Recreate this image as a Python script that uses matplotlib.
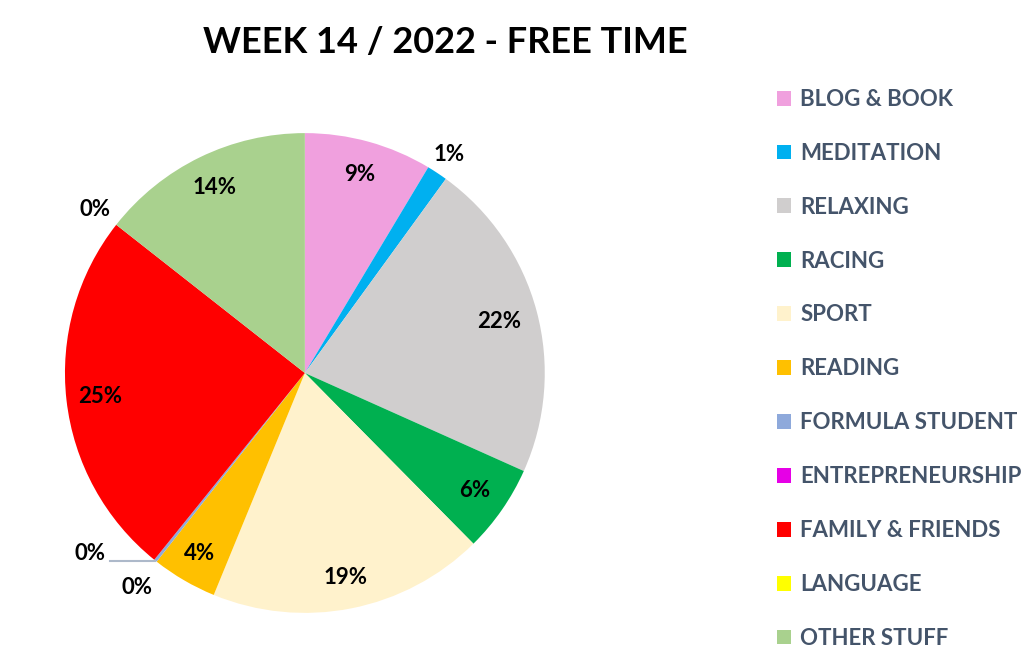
import numpy as np
import matplotlib
matplotlib.use("Agg")
import matplotlib.pyplot as plt
from matplotlib.patches import Patch

# share of free time per activity (percent), clockwise from 12 o'clock
categories = ["BLOG & BOOK", "MEDITATION", "RELAXING", "RACING", "SPORT",
              "READING", "FORMULA STUDENT", "ENTREPRENEURSHIP",
              "FAMILY & FRIENDS", "LANGUAGE", "OTHER STUFF"]
shares = [8.6, 1.4, 21.7, 5.9, 18.6, 4.4, 0.2, 0.0, 24.8, 0.0, 14.4]
colors = ["#F0A0DE", "#00B0F0", "#D0CECE", "#00B050", "#FFF2CC",
          "#FFC000", "#8EA9DB", "#E600E6", "#FF0000", "#FFFF00", "#A9D18E"]

plt.rcParams['font.family'] = ['Lato', 'DejaVu Sans']
plt.rcParams['font.weight'] = 'bold'

fig = plt.figure(figsize=(10.23, 6.69), dpi=100)
ax = fig.add_axes([0.0635, 0.0837, 0.469, 0.7175])

wedges, _ = ax.pie(shares, colors=colors, startangle=90, counterclock=False,
                   wedgeprops=dict(linewidth=0), radius=1.0)
ax.set_xlim(-1, 1)
ax.set_ylim(-1, 1)
ax.set_aspect('equal')
ax.axis('off')

# label placement: radial distance for each slice (outside for tiny ones)
label_r = [0.86, 1.09, 0.84, 0.86, 0.87, 0.87, None, None, 0.86, None, 0.86]
for w, val, r in zip(wedges, shares, label_r):
    mid = np.deg2rad((w.theta1 + w.theta2) / 2)
    txt = f"{val:.0f}%"
    if r is not None:
        ax.text(r * np.cos(mid), r * np.sin(mid), txt, ha='center', va='center',
                fontsize=16, fontweight='bold', color='black')

# zero / tiny slices
fs = wedges[6]
mid = np.deg2rad((fs.theta1 + fs.theta2) / 2)
ex, ey = np.cos(mid), np.sin(mid)
ax.plot([ex - 0.19, ex], [ey, ey], color='#ADB9CA', lw=1.5)
ax.text(ex - 0.21, ey + 0.03, "0%", ha='right', va='center',
        fontsize=16, fontweight='bold')
en = wedges[7]
mid = np.deg2rad(en.theta1)
ax.text(np.cos(mid) - 0.07, np.sin(mid) - 0.115, "0%", ha='center', va='center',
        fontsize=16, fontweight='bold')
la = wedges[9]
mid = np.deg2rad(la.theta1)
ax.text(np.cos(mid) - 0.09, np.sin(mid) + 0.065, "0%", ha='center', va='center',
        fontsize=16, fontweight='bold')

fig.text(0.435, 0.937, "WEEK 14 / 2022 - FREE TIME", ha='center', va='center',
         fontsize=26, fontweight='bold', color='black')

handles = [Patch(facecolor=c, edgecolor='none') for c in colors]
leg = fig.legend(handles, categories, loc='upper left',
                 bbox_to_anchor=(0.740, 0.897), frameon=False,
                 fontsize=16, labelspacing=1.48, handlelength=0.65,
                 handleheight=0.65, handletextpad=0.4)
for t in leg.get_texts():
    t.set_color('#44546A')
    t.set_fontweight('bold')

fig.savefig("out.png", dpi=100, facecolor='white')
